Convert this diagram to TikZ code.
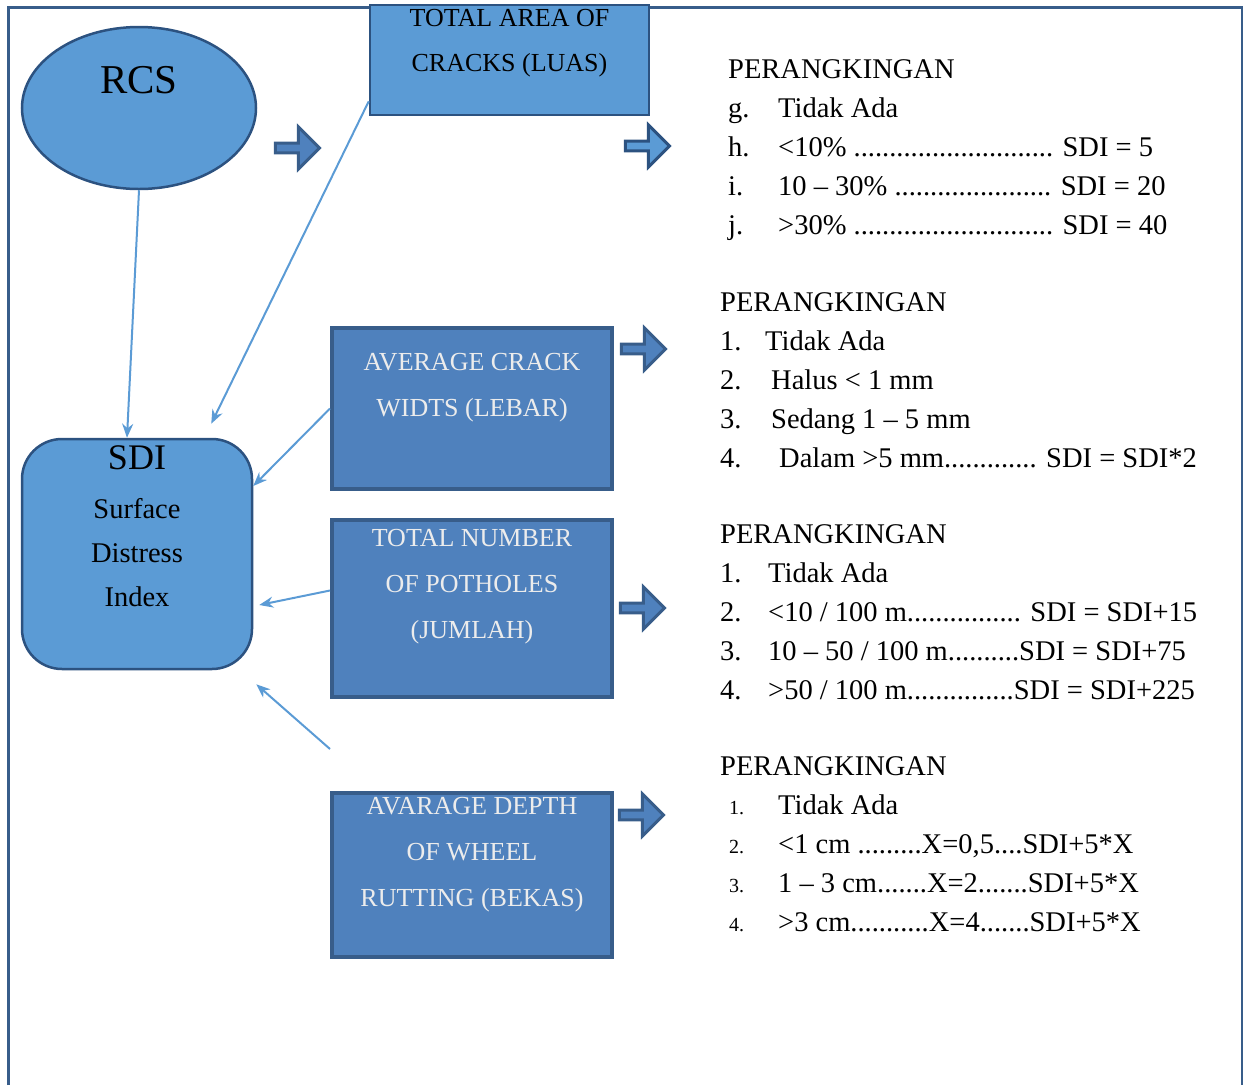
\documentclass[tikz,border=0pt]{standalone}
\usepackage{fontspec}
\setmainfont{Liberation Serif}
\usetikzlibrary{positioning,arrows.meta,shapes.geometric,shapes.arrows}
\definecolor{skyfill}{RGB}{91,155,213}
\definecolor{steelfill}{RGB}{79,129,189}
\definecolor{steeledge}{RGB}{56,93,138}
\definecolor{navyedge}{RGB}{44,82,128}
\definecolor{paletext}{RGB}{236,236,236}
\newcommand{\lbl}[2]{\makebox[#1][l]{#2}}

\begin{document}
\begin{tikzpicture}[x=1pt, y=-1pt,
  softbox/.style={draw=navyedge, fill=skyfill, line width=2.5pt, inner sep=0pt,
    font=\fontsize{26}{45}\selectfont},
  darkbox/.style={draw=steeledge, fill=steelfill, line width=4pt, inner sep=0pt,
    minimum width=280pt, text=paletext, font=\fontsize{26}{46}\selectfont},
  blockarr/.style={single arrow, draw=steeledge, fill=steelfill, line width=3pt,
    inner sep=0pt, minimum height=44pt, minimum width=42pt, single arrow head extend=5pt},
  con/.style={-{Stealth[length=14pt,width=11pt]}, line width=2pt, draw=skyfill},
  ranktxt/.style={anchor=base west, inner sep=0pt, font=\fontsize{28.5}{39}\selectfont}
]
\useasboundingbox (0,0) rectangle (1243,1085);
\draw[steeledge, line width=3pt] (8,1085) -- (8,7) -- (1242,7) -- (1242,1085);

% left column
\node[ellipse, softbox, minimum width=234pt, minimum height=162pt,
  font=\fontsize{41}{41}\selectfont, text height=30pt, text depth=59pt] (rcs) at (139,108) {RCS};
\node[softbox, rounded corners=40pt, minimum width=230pt, minimum height=230pt,
  text height=30pt, text depth=200pt, font=\fontsize{28.5}{44}\selectfont] (sdi) at (137,554)
  {\begin{tabular}[t]{@{}c@{}}{\fontsize{36}{36}\selectfont SDI}\\[5.5pt] Surface\\ Distress\\ Index\end{tabular}};

% damage boxes
\node[softbox, minimum width=279pt, minimum height=110pt, text height=21.6pt, text depth=88.4pt]
  (area) at (509.5,60) {\begin{tabular}[t]{@{}c@{}}TOTAL AREA OF\\ CRACKS (LUAS)\end{tabular}};
\node[darkbox, minimum height=161pt, text height=42.6pt, text depth=118.4pt]
  (avg) at (472,408.5) {\begin{tabular}[t]{@{}c@{}}AVERAGE CRACK\\ WIDTS (LEBAR)\end{tabular}};
\node[darkbox, minimum height=177pt, text height=26.6pt, text depth=150.4pt, below=27pt of avg]
  (pot) {\begin{tabular}[t]{@{}c@{}}TOTAL NUMBER\\ OF POTHOLES\\ (JUMLAH)\end{tabular}};
\node[darkbox, minimum height=164pt, text height=21.6pt, text depth=142.4pt, below=92pt of pot]
  (rut) {\begin{tabular}[t]{@{}c@{}}AVARAGE DEPTH\\ OF WHEEL\\ RUTTING (BEKAS)\end{tabular}};

% block arrows
\node[blockarr] (arrRcs) at (295,148) {};
\node[blockarr, fill=skyfill, draw=navyedge] (arrArea) at (645,146) {};
\node[blockarr] (arrAvg) at (641,349) {};
\node[blockarr] (arrPot) at (640,608) {};
\node[blockarr] (arrRut) at (639,815) {};

% connectors to SDI
\draw[con] (rcs.south) -- ([xshift=-10pt]sdi.north);
\draw[con] ([yshift=15pt]area.south west) -- ([shift={(-42pt,14pt)}]sdi.north east);
\draw[con] (avg.west) -- ([yshift=68pt]sdi.east);
\draw[con] ([yshift=18pt]pot.west) -- ([shift={(6pt,-51pt)}]sdi.east);
\draw[con] ([yshift=42pt]rut.north west) -- ([shift={(3pt,-14pt)}]sdi.south east);

% rankings
\node[ranktxt] (rankArea) at (728,78) {\begin{tabular}[t]{@{}l@{}}
  PERANGKINGAN\\
  \lbl{50pt}{g.}Tidak Ada\\
  \lbl{50pt}{h.}<10\% ............................ SDI = 5\\
  \lbl{50pt}{i.}10 – 30\% ...................... SDI = 20\\
  \lbl{50pt}{j.}>30\% ............................ SDI = 40
  \end{tabular}};
\node[ranktxt] (rankAvg) at (720,311) {\begin{tabular}[t]{@{}l@{}}
  PERANGKINGAN\\
  \lbl{45pt}{1.}Tidak Ada\\
  \lbl{51pt}{2.}Halus < 1 mm\\
  \lbl{51pt}{3.}Sedang 1 – 5 mm\\
  \lbl{59pt}{4.}Dalam >5 mm............. SDI = SDI*2
  \end{tabular}};
\node[ranktxt] (rankPot) at (720,543) {\begin{tabular}[t]{@{}l@{}}
  PERANGKINGAN\\
  \lbl{48pt}{1.}Tidak Ada\\
  \lbl{48pt}{2.}<10 / 100 m................ SDI = SDI+15\\
  \lbl{48pt}{3.}10 – 50 / 100 m..........SDI = SDI+75\\
  \lbl{48pt}{4.}>50 / 100 m...............SDI = SDI+225
  \end{tabular}};
\node[ranktxt] (rankRut) at (720,775) {\begin{tabular}[t]{@{}l@{}}
  PERANGKINGAN\\
  \hspace{9pt}\lbl{49pt}{\fontsize{20}{20}\selectfont 1.}Tidak Ada\\
  \hspace{9pt}\lbl{49pt}{\fontsize{20}{20}\selectfont 2.}<1 cm .........X=0,5....SDI+5*X\\
  \hspace{9pt}\lbl{49pt}{\fontsize{20}{20}\selectfont 3.}1 – 3 cm.......X=2.......SDI+5*X\\
  \hspace{9pt}\lbl{49pt}{\fontsize{20}{20}\selectfont 4.}>3 cm...........X=4.......SDI+5*X
  \end{tabular}};
\end{tikzpicture}
\end{document}
